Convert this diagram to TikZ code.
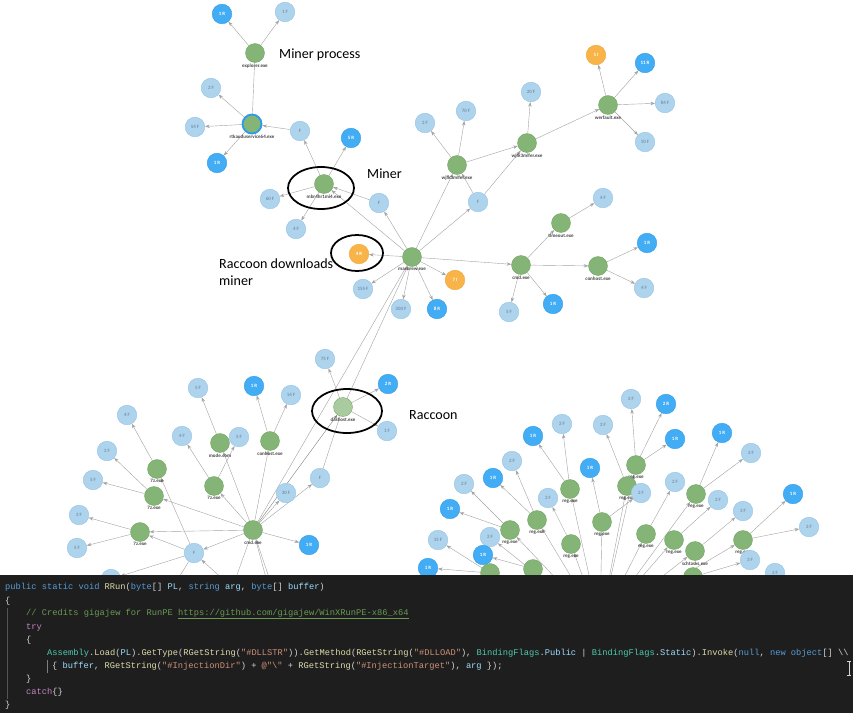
\documentclass[tikz,border=0pt]{standalone}
\usepackage{fontspec}
\setmainfont{Carlito}
\newfontfamily\codigo{Liberation Mono}
\usetikzlibrary{arrows.meta,backgrounds}
\definecolor{verde}{HTML}{85B576}
\definecolor{verdeb}{HTML}{6FA35F}
\definecolor{celeste}{HTML}{AED3EC}
\definecolor{celesteb}{HTML}{90C1E3}
\definecolor{celestet}{HTML}{7696B0}
\definecolor{azul}{HTML}{42ACF5}
\definecolor{azulb}{HTML}{2E9BE8}
\definecolor{naranja}{HTML}{F8B448}
\definecolor{naranjab}{HTML}{EEA336}
\definecolor{arista}{HTML}{A3A3A3}
\definecolor{fondo}{HTML}{1E1E1E}
\definecolor{kw}{HTML}{569CD6}
\definecolor{fn}{HTML}{DCDCAA}
\definecolor{va}{HTML}{9CDCFE}
\definecolor{st}{HTML}{CE9178}
\definecolor{ty}{HTML}{4EC9B0}
\definecolor{ct}{HTML}{C586C0}
\definecolor{cm}{HTML}{6A9955}
\definecolor{tx}{HTML}{D4D4D4}
\begin{document}
\begin{tikzpicture}[x=0.3mm, y=-0.3mm,
    proceso/.style={circle, fill=verde, draw=verdeb, line width=0.3pt, minimum size=5.7mm, inner sep=0pt,
      label distance=1.2pt},
    archivo/.style={circle, fill=celeste, draw=celesteb, line width=0.3pt, minimum size=5.9mm, inner sep=0pt,
      text=celestet, font=\fontsize{4.2}{4.5}\selectfont\bfseries},
    registro/.style={archivo, fill=azul, draw=azulb, text=white},
    otro/.style={archivo, fill=naranja, draw=naranjab, text=white},
    etiqueta/.style={font=\fontsize{4.3}{4.5}\selectfont\bfseries, text=black!72, inner sep=0.6pt},
    every label/.style={etiqueta},
    flecha/.style={draw=arista, line width=0.35pt, -{Stealth[length=1.4mm, width=1mm]}},
    linea/.style={draw=arista, line width=0.35pt},
    ovalo/.style={draw=black, line width=1.5pt},
    texto/.style={font=\fontsize{12}{14}\selectfont, anchor=west, inner sep=0pt},
    cod/.style={font=\codigo\fontsize{7.45}{9}\selectfont, text=tx, anchor=west, inner sep=0pt}]
  \useasboundingbox (0,0) rectangle (853,713);

  % Proceso minero
  \node[proceso, label=below:explorer.exe] (explorer) at (255,53) {};
  \node[registro] (expR) at (222,14) {1 R};
  \node[archivo] (expF) at (285,12) {1 F};
  \node[proceso, draw=azulb, line width=1.6pt, label=below:rtkauduservice64.exe] (rtk) at (252,124) {};
  \node[archivo] (rtk2F) at (211,88) {2 F};
  \node[archivo] (rtk54F) at (195,127) {54 F};
  \node[registro] (rtk1R) at (217,163) {1 R};
  \node[archivo] (mbrF) at (300,131) {F};
  \node[registro] (mbr5R) at (351,138) {5 R};
  \node[proceso, label=below:mbr4hr1mi4.exe] (mbr) at (324,184) {};
  \node[archivo] (mbr60F) at (270,199) {60 F};
  \node[archivo] (mbr4F) at (296,229) {4 F};
  \node[archivo] (macF1) at (379,203) {F};

  % macorew
  \node[proceso, label=below:macorew.exe] (macorew) at (412,257) {};
  \node[otro] (mac4R) at (359,254) {4 R};
  \node[archivo] (mac155F) at (363,289) {155 F};
  \node[archivo] (mac200F) at (401,309) {200 F};
  \node[registro] (mac8R) at (437,309) {8 R};
  \node[otro] (mac7I) at (455,280) {7 I};
  \node[archivo] (macF2) at (478,202) {F};
  \node[proceso, label=below:wjfk3mlfer.exe] (wjfkA) at (457,165) {};
  \node[archivo] (wA2F) at (425,123) {2 F};
  \node[archivo] (wA70F) at (466,111) {70 F};
  \node[proceso, label=below:wjfk3mlfer.exe] (wjfkB) at (527,143) {};
  \node[archivo] (wB20F) at (531,92) {20 F};
  \node[proceso, label=below:werfault.exe] (werfault) at (608,105) {};
  \node[otro] (wf1I) at (596,55) {1 I};
  \node[registro] (wf11R) at (645,63) {11 R};
  \node[archivo] (wf84F) at (665,103) {84 F};
  \node[archivo] (wf10F) at (645,142) {10 F};
  \node[proceso, label=below:cmd.exe] (cmdA) at (521,265) {};
  \node[proceso, label=below:timeout.exe] (timeout) at (561,223) {};
  \node[archivo] (to4F) at (603,198) {4 F};
  \node[proceso, label=below:conhost.exe] (conhostA) at (598,266) {};
  \node[registro] (co1R) at (647,243) {1 R};
  \node[archivo] (co4F) at (644,288) {4 F};
  \node[archivo] (cA5F) at (509,312) {5 F};
  \node[registro] (cA1R) at (553,304) {1 R};

  % Raccoon
  \node[proceso, fill=verde!70!white, label=below:dashost.exe] (dashost) at (343,407) {};
  \node[archivo] (da75F) at (325,359) {75 F};
  \node[registro] (da2R) at (388,384) {2 R};
  \node[archivo] (da1F) at (387,431) {1 F};

  % Abajo a la izquierda
  \node[proceso, label=below:cmd.exe] (cmdB) at (253,530) {};
  \node[proceso, label=below:mode.com] (modecom) at (220,443) {};
  \node[proceso, label=below:conhost.exe] (conhostB) at (270,441) {};
  \node[proceso, label=below:7z.exe] (zA) at (157,469) {};
  \node[proceso, label=below:7z.exe] (zB) at (214,486) {};
  \node[proceso, label=below:7z.exe] (zC) at (154,496) {};
  \node[proceso, label=below:7z.exe] (zD) at (140,532) {};
  \node[archivo] (mo5F) at (198,388) {5 F};
  \node[archivo] (zB5F) at (239,437) {5 F};
  \node[registro] (cB1R) at (254,386) {1 R};
  \node[archivo] (cB14F) at (291,395) {14 F};
  \node[archivo] (zA4F) at (127,415) {4 F};
  \node[archivo] (zB4F) at (182,436) {4 F};
  \node[archivo] (zC2F) at (107,451) {2 F};
  \node[archivo] (zC5F) at (93,480) {5 F};
  \node[archivo] (zD2F) at (79,515) {2 F};
  \node[archivo] (zD5F) at (77,548) {5 F};
  \node[archivo] (cmdF1) at (194,553) {F};
  \node[archivo] (cmdF2) at (320,478) {F};
  \node[archivo] (cmd30F) at (286,493) {30 F};
  \node[registro] (cmd1R) at (309,545) {1 R};
  \node[archivo] (cmdPF) at (111,579) {2 F};
  \coordinate (raizL) at (290,640);
  \coordinate (bajoA) at (228,600);
  \coordinate (bajoB) at (272,600);
  \coordinate (bajoC) at (165,600);

  % Abajo a la derecha (reg.exe)
  \node[archivo] (b2Fa) at (631,399) {2 F};
  \node[registro] (b2R) at (666,404) {2 R};
  \node[archivo] (b2Fb) at (562,424) {2 F};
  \node[archivo] (b2Fc) at (603,425) {2 F};
  \node[registro] (b1Ra) at (533,436) {1 R};
  \node[registro] (b1Rb) at (675,439) {1 R};
  \node[registro] (b1Rc) at (722,433) {1 R};
  \node[archivo] (b2Fd) at (751,453) {2 F};
  \node[archivo] (b2Fe) at (512,461) {2 F};
  \node[registro] (b1Rd) at (590,468) {1 R};
  \node[registro] (b1Re) at (493,478) {1 R};
  \node[archivo] (b2Ff) at (464,484) {2 F};
  \node[proceso, label=below:reg.exe] (rgA) at (636,465) {};
  \node[proceso, label=below:reg.exe] (rgB) at (627,486) {};
  \node[archivo] (b2Fg) at (641,493) {2 F};
  \node[archivo] (b2Fh) at (675,482) {2 F};
  \node[proceso, label=below:reg.exe] (rgC) at (570,489) {};
  \node[archivo] (b2Fi) at (548,498) {2 F};
  \node[proceso, label=below:reg.exe] (rgD) at (696,494) {};
  \node[archivo] (b2Fj) at (718,500) {2 F};
  \node[registro] (b1Rf) at (450,509) {1 R};
  \node[proceso, label=below:reg.exe] (rgE) at (537,520) {};
  \node[proceso, label=below:reg.exe] (rgF) at (602,522) {};
  \node[archivo] (b3Fa) at (743,511) {3 F};
  \node[registro] (b1Rg) at (793,494) {1 R};
  \node[proceso, label=below:reg.exe] (rgG) at (510,530) {};
  \node[archivo] (b2Fk) at (490,537) {2 F};
  \node[archivo] (b15F) at (438,540) {15 F};
  \node[proceso, label=below:reg.exe] (rgH) at (646,534) {};
  \node[proceso, label=below:reg.exe] (rgI) at (571,544) {};
  \node[proceso, label=below:reg.exe] (rgJ) at (674,540) {};
  \node[proceso, label=below:reg.exe] (rgK) at (743,540) {};
  \node[archivo] (b2Fl) at (809,527) {2 F};
  \node[registro] (b1Rh) at (483,555) {1 R};
  \node[proceso, label=below:schtasks.exe] (schtasks) at (695,551) {};
  \node[archivo] (b3Fb) at (750,560) {3 F};
  \node[registro] (b1Ri) at (428,568) {1 R};
  \node[proceso] (rgL) at (490,573) {};
  \node[proceso] (rgM) at (533,569) {};
  \node[proceso] (rgN) at (693,577) {};
  \node[archivo] (b2Fm) at (775,573) {2 F};
  \coordinate (raizR) at (600,625);

  % Aristas
  \begin{scope}[on background layer]
    \draw[flecha] (explorer) -- (expR);
    \draw[flecha] (explorer) -- (expF);
    \draw[linea] (explorer) -- (rtk);
    \draw[flecha] (rtk) -- (rtk2F);
    \draw[flecha] (rtk) -- (rtk54F);
    \draw[flecha] (rtk) -- (rtk1R);
    \draw[flecha] (mbrF) -- (rtk);
    \draw[flecha] (mbr) -- (mbrF);
    \draw[flecha] (mbr) -- (mbr5R);
    \draw[flecha] (mbr) -- (mbr60F);
    \draw[flecha] (mbr) -- (mbr4F);
    \draw[flecha] (macF1) -- (mbr);
    \draw[flecha] (macorew) -- (mbr);
    \draw[flecha] (macorew) -- (macF1);
    \draw[flecha] (macorew) -- (mac4R);
    \draw[flecha] (macorew) -- (mac155F);
    \draw[flecha] (macorew) -- (mac200F);
    \draw[flecha] (macorew) -- (mac8R);
    \draw[flecha] (macorew) -- (mac7I);
    \draw[flecha] (macorew) -- (macF2);
    \draw[flecha] (macorew) -- (wjfkA);
    \draw[flecha] (macorew) -- (cmdA);
    \draw[flecha] (macF2) -- (wjfkA);
    \draw[flecha] (macF2) -- (wjfkB);
    \draw[flecha] (wjfkA) -- (wA2F);
    \draw[flecha] (wjfkA) -- (wA70F);
    \draw[flecha] (wjfkA) -- (wjfkB);
    \draw[flecha] (wjfkB) -- (wB20F);
    \draw[flecha] (wjfkB) -- (werfault);
    \draw[flecha] (werfault) -- (wf1I);
    \draw[flecha] (werfault) -- (wf11R);
    \draw[flecha] (werfault) -- (wf84F);
    \draw[flecha] (werfault) -- (wf10F);
    \draw[flecha] (cmdA) -- (timeout);
    \draw[flecha] (cmdA) -- (conhostA);
    \draw[flecha] (cmdA) -- (cA5F);
    \draw[flecha] (cmdA) -- (cA1R);
    \draw[flecha] (timeout) -- (to4F);
    \draw[flecha] (conhostA) -- (co1R);
    \draw[flecha] (conhostA) -- (co4F);
    \draw[flecha] (dashost) -- (macorew);
    \draw[linea] (cmdB) -- (macorew);
    \draw[flecha] (dashost) -- (da75F);
    \draw[flecha] (dashost) -- (da2R);
    \draw[flecha] (dashost) -- (da1F);
    \draw[flecha, draw=black!50] (cmdB) -- (dashost);
    \draw[linea] (cmdF2) -- (dashost);
    \draw[flecha] (cmdB) -- (modecom);
    \draw[flecha] (cmdB) -- (conhostB);
    \draw[flecha] (cmdB) -- (zB);
    \draw[flecha] (cmdB) -- (zC);
    \draw[flecha] (cmdB) -- (zD);
    \draw[flecha] (cmdB) -- (cmdF1);
    \draw[flecha] (cmdB) -- (cmd30F);
    \draw[flecha] (cmdB) -- (cmdF2);
    \draw[flecha] (cmdB) -- (cmd1R);
    \draw[flecha] (cmdF1) -- (zA);
    \draw[flecha] (cmdF1) -- (zD);
    \draw[flecha] (modecom) -- (mo5F);
    \draw[flecha] (zB) -- (zB5F);
    \draw[flecha] (zB) -- (zB4F);
    \draw[flecha] (conhostB) -- (cB1R);
    \draw[flecha] (conhostB) -- (cB14F);
    \draw[flecha] (zA) -- (zA4F);
    \draw[flecha] (zC) -- (zC2F);
    \draw[flecha] (zC) -- (zC5F);
    \draw[flecha] (zD) -- (zD2F);
    \draw[flecha] (zD) -- (zD5F);
    \draw[flecha] (raizL) -- (cmdB);
    \draw[flecha] (raizL) -- (cmdF1);
    \draw[flecha] (cmdF1) -- (cmdPF);
    \draw[linea] (cmdB) -- (bajoA);
    \draw[linea] (cmdB) -- (bajoB);
    \draw[linea] (cmdF1) -- (bajoC);
    \draw[flecha] (rgA) -- (b2Fa);
    \draw[flecha] (rgA) -- (b2R);
    \draw[flecha] (rgA) -- (b1Rb);
    \draw[flecha] (rgB) -- (b2Fc);
    \draw[flecha] (rgC) -- (b2Fb);
    \draw[flecha] (rgC) -- (b1Ra);
    \draw[flecha] (rgD) -- (b1Rc);
    \draw[flecha] (rgD) -- (b2Fd);
    \draw[flecha] (rgE) -- (b2Fe);
    \draw[flecha] (rgE) -- (b1Re);
    \draw[flecha] (rgF) -- (b1Rd);
    \draw[flecha] (rgF) -- (b2Fg);
    \draw[flecha] (rgG) -- (b2Ff);
    \draw[flecha] (rgG) -- (b1Rf);
    \draw[flecha] (rgH) -- (b2Fh);
    \draw[flecha] (rgI) -- (b2Fi);
    \draw[flecha] (rgJ) -- (b2Fj);
    \draw[flecha] (rgK) -- (b1Rg);
    \draw[flecha] (rgK) -- (b2Fl);
    \draw[flecha] (schtasks) -- (b3Fa);
    \draw[flecha] (rgL) -- (b15F);
    \draw[flecha] (rgL) -- (b1Ri);
    \draw[flecha] (rgM) -- (b1Rh);
    \draw[flecha] (rgN) -- (b3Fb);
    \foreach \hijo in {rgA,rgB,rgC,rgD,rgE,rgF,rgG,rgH,rgI,rgJ,rgK,schtasks,rgL,rgM,rgN,b2Fk,b2Fm}
      \draw[flecha] (raizR) -- (\hijo);
  \end{scope}

  % Marcas
  \draw[ovalo] (321,188) ellipse [x radius=33, y radius=21];
  \draw[ovalo] (357,253) ellipse [x radius=26, y radius=18];
  \draw[ovalo] (347,411) ellipse [x radius=35, y radius=22];
  \node[texto] (tProceso) at (279,55) {Miner process};
  \node[texto] (tMiner) at (367,174) {Miner};
  \node[texto] (tBaja) at (219,264) {Raccoon downloads};
  \node[texto] (tBaja2) at (219,281) {miner};
  \node[texto] (tRaccoon) at (409,415) {Raccoon};

  % Codigo
  \fill[fondo] (0,575) rectangle (853,713);
  \draw[black!60!tx, line width=0.3pt] (7,608) -- (7,699);
  \draw[black!40!tx, line width=0.3pt] (47,660) -- (47,673);
  \node[cod] (l1) at (5,587) {\textcolor{kw}{public static void} \textcolor{fn}{RRun}(\textcolor{kw}{byte}[] \textcolor{va}{PL}, \textcolor{kw}{string} \textcolor{va}{arg}, \textcolor{kw}{byte}[] \textcolor{va}{buffer})};
  \node[cod] (l2) at (5,601) {\{};
  \node[cod] (l3) at (26,614) {\textcolor{cm}{// Credits gigajew for RunPE \underline{https://github.com/gigajew/WinXRunPE-x86\_x64}}};
  \node[cod] (l4) at (26,627) {\textcolor{ct}{try}};
  \node[cod] (l5) at (26,640) {\{};
  \node[cod] (l6) at (47,653) {\textcolor{ty}{Assembly}.\textcolor{fn}{Load}(\textcolor{va}{PL}).\textcolor{fn}{GetType}(\textcolor{fn}{RGetString}(\textcolor{st}{"\#DLLSTR"})).\textcolor{fn}{GetMethod}(\textcolor{fn}{RGetString}(\textcolor{st}{"\#DLLOAD"}), \textcolor{ty}{BindingFlags}.\textcolor{va}{Public} | \textcolor{ty}{BindingFlags}.\textcolor{va}{Static}).\textcolor{fn}{Invoke}(\textcolor{kw}{null}, \textcolor{kw}{new} \textcolor{kw}{object}[] \textbackslash\textbackslash};
  \node[cod] (l7) at (52,666) {\{ \textcolor{va}{buffer}, \textcolor{fn}{RGetString}(\textcolor{st}{"\#InjectionDir"}) + \textcolor{st}{@"\textbackslash"} + \textcolor{fn}{RGetString}(\textcolor{st}{"\#InjectionTarget"}), \textcolor{va}{arg} \});};
  \node[cod] (l8) at (26,679) {\}};
  \node[cod] (l9) at (26,692) {\textcolor{ct}{catch}\{\}};
  \node[cod] (l10) at (5,705) {\}};
  \draw[tx, line width=0.5pt] (849,661) -- (849,675) (847,661) -- (851,661) (847,675) -- (851,675);
\end{tikzpicture}
\end{document}
